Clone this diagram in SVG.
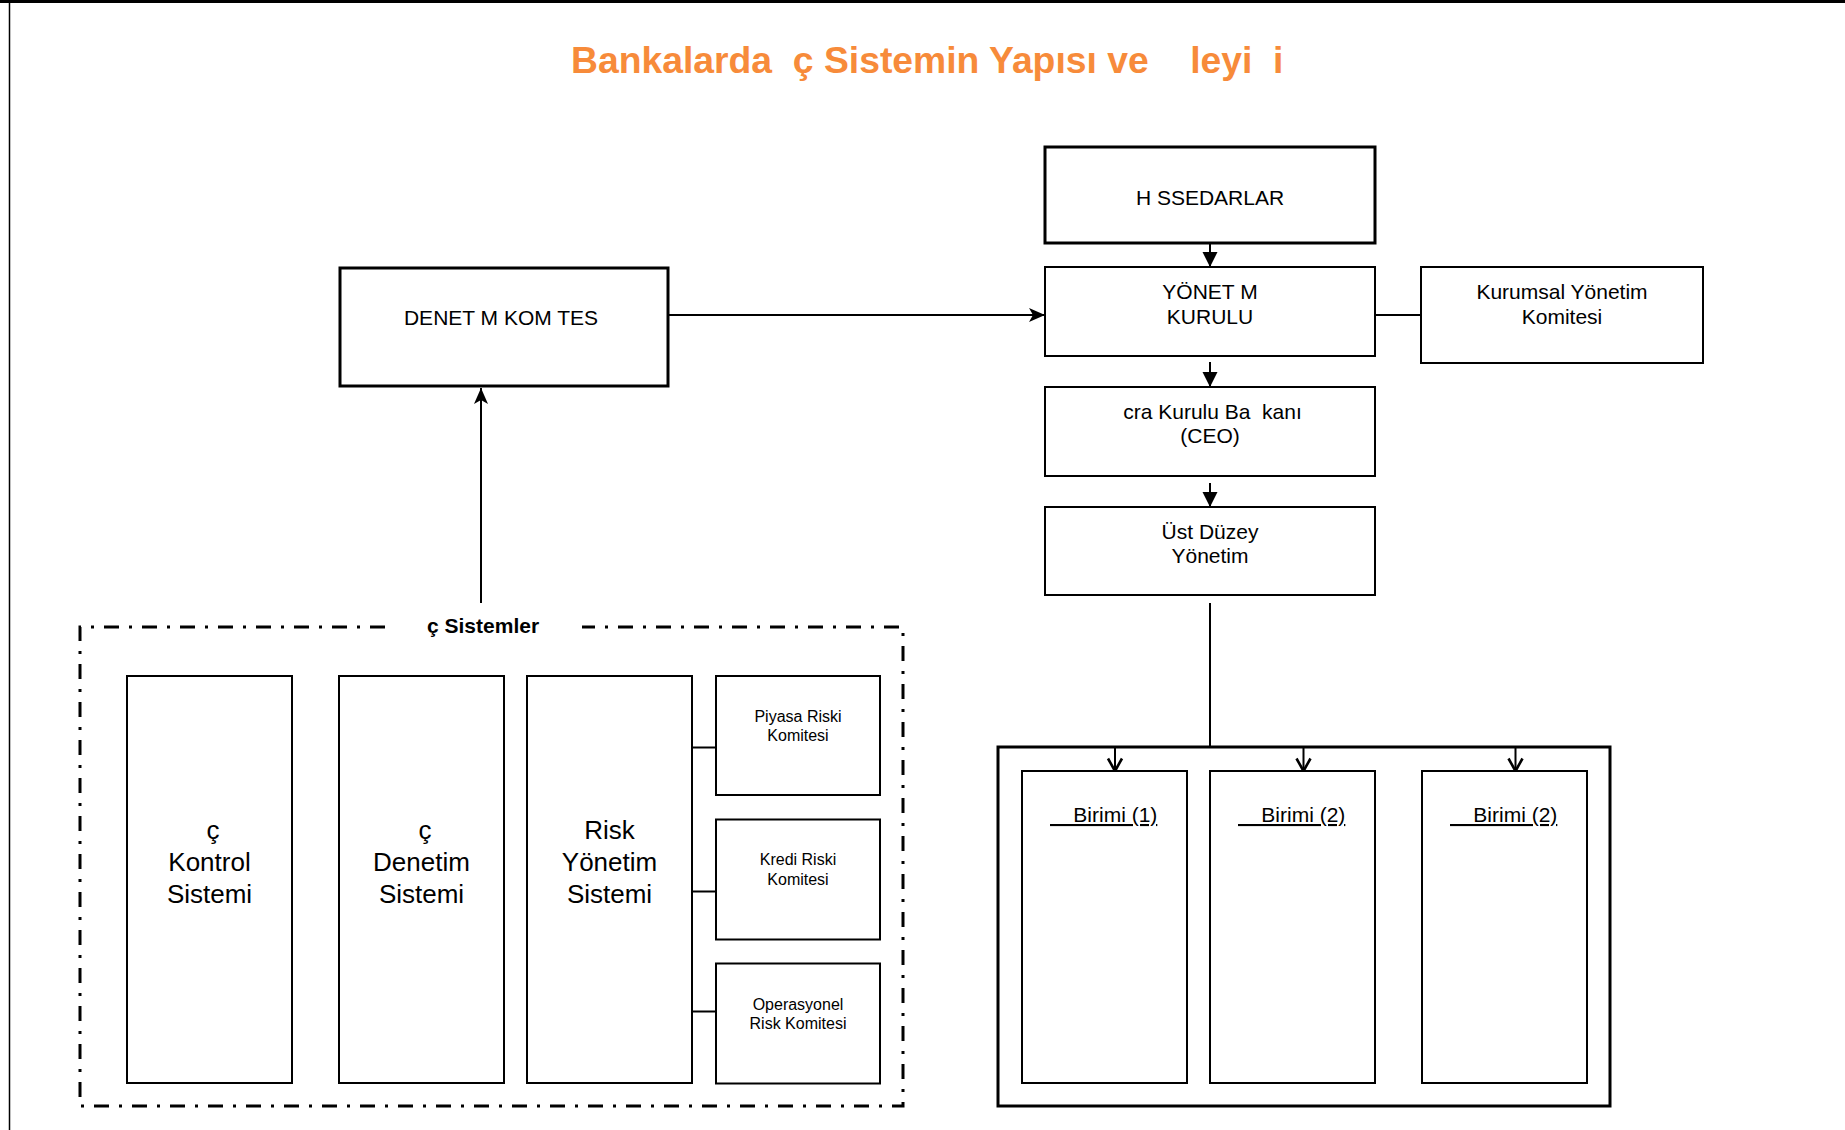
<svg xmlns="http://www.w3.org/2000/svg" width="1845" height="1130" viewBox="0 0 1845 1130">
<style>
text{font-family:"Liberation Sans",Arial,sans-serif;fill:#000;white-space:pre}
.title{font-size:37.3px;font-weight:bold;fill:#F78B3A}
.m{font-size:21px;text-anchor:middle}
.big{font-size:26px;text-anchor:middle}
.s{font-size:16px;text-anchor:middle}
.lbl{font-size:21px;font-weight:bold}
.u{font-size:21px;text-decoration:underline}
.thick{fill:#fff;stroke:#000;stroke-width:3}
.thin{fill:#fff;stroke:#000;stroke-width:2}
.con{fill:none;stroke:#000;stroke-width:2}
.dash{fill:none;stroke:#000;stroke-width:3;stroke-dasharray:15 10 3 10}
</style>
<defs>
<marker id="tri" markerUnits="userSpaceOnUse" markerWidth="16" markerHeight="16" refX="15" refY="7.5" orient="auto"><path d="M0,0 L15,7.5 L0,15 Z" fill="#000"/></marker>
<marker id="stealth" markerUnits="userSpaceOnUse" markerWidth="17" markerHeight="15" refX="16" refY="7" orient="auto"><path d="M0,0 L16,7 L0,14 L4,7 Z" fill="#000"/></marker>
<marker id="vee" markerUnits="userSpaceOnUse" markerWidth="17" markerHeight="18" refX="14" refY="8.5" orient="auto"><path d="M1.5,1.5 L14,8.5 L1.5,15.5" fill="none" stroke="#000" stroke-width="2.6"/></marker>
</defs>
<rect width="1845" height="1130" fill="#fff"/>
<g id="frame">
<line x1="0" y1="1.5" x2="1845" y2="1.5" stroke="#000" stroke-width="3"/>
<line x1="9.5" y1="0" x2="9.5" y2="1130" stroke="#000" stroke-width="1.5"/>
</g>
<text id="title" class="title" x="571" y="73" xml:space="preserve">Bankalarda  ç Sistemin Yapısı ve    leyi  i</text>

<g id="connectors">
<path class="con" d="M1210,244 V267" marker-end="url(#tri)"/>
<path class="con" d="M1210,362 V387" marker-end="url(#tri)"/>
<path class="con" d="M1210,483 V507" marker-end="url(#tri)"/>
<path class="con" d="M668,315 H1045" marker-end="url(#stealth)"/>
<path class="con" d="M481,603 V388" marker-end="url(#stealth)"/>
<path class="con" d="M1375,315 H1421"/>
<path class="con" d="M1210,603 V747"/>
<path class="con" d="M1115,747 V771" marker-end="url(#vee)"/>
<path class="con" d="M1303.5,747 V771" marker-end="url(#vee)"/>
<path class="con" d="M1515.5,747 V771" marker-end="url(#vee)"/>
<path class="con" d="M692,747.5 H716"/>
<path class="con" d="M692,891.5 H716"/>
<path class="con" d="M692,1011.5 H716"/>
</g>

<g id="hissedarlar"><rect class="thick" x="1045" y="147" width="330" height="96"/><text class="m" x="1210" y="205">H SSEDARLAR</text></g>
<g id="yonetim-kurulu"><rect class="thin" x="1045" y="267" width="330" height="89"/><text class="m" x="1210" y="299" xml:space="preserve">YÖNET M</text><text class="m" x="1210" y="323.5">KURULU</text></g>
<g id="kurumsal"><rect class="thin" x="1421" y="267" width="282" height="96"/><text class="m" x="1562" y="299">Kurumsal Yönetim</text><text class="m" x="1562" y="323.5">Komitesi</text></g>
<g id="denetim-komitesi"><rect class="thick" x="340" y="268" width="328" height="118"/><text class="m" x="501" y="325" xml:space="preserve">DENET M KOM TES</text></g>
<g id="ceo"><rect class="thin" x="1045" y="387" width="330" height="89"/><text class="m" x="1212.5" y="418.5" xml:space="preserve">cra Kurulu Ba  kanı</text><text class="m" x="1210" y="443">(CEO)</text></g>
<g id="ust-duzey"><rect class="thin" x="1045" y="507" width="330" height="88"/><text class="m" x="1210" y="538.5">Üst Düzey</text><text class="m" x="1210" y="563">Yönetim</text></g>

<g id="ic-sistemler">
<path class="dash" d="M385,627 H80 V1106 H903 V627 H582"/>
<text class="lbl" x="427" y="633">ç Sistemler</text>
</g>
<g id="ic-kontrol"><rect class="thin" x="127" y="676" width="165" height="407"/><text class="big" x="213" y="839">ç</text><text class="big" x="209.5" y="871">Kontrol</text><text class="big" x="209.5" y="903">Sistemi</text></g>
<g id="ic-denetim"><rect class="thin" x="339" y="676" width="165" height="407"/><text class="big" x="425" y="839">ç</text><text class="big" x="421.5" y="871">Denetim</text><text class="big" x="421.5" y="903">Sistemi</text></g>
<g id="risk-yonetim"><rect class="thin" x="527" y="676" width="165" height="407"/><text class="big" x="609.5" y="839">Risk</text><text class="big" x="609.5" y="871">Yönetim</text><text class="big" x="609.5" y="903">Sistemi</text></g>
<g id="piyasa"><rect class="thin" x="716" y="676" width="164" height="119"/><text class="s" x="798" y="722">Piyasa Riski</text><text class="s" x="798" y="741">Komitesi</text></g>
<g id="kredi"><rect class="thin" x="716" y="819.5" width="164" height="120"/><text class="s" x="798" y="865">Kredi Riski</text><text class="s" x="798" y="885">Komitesi</text></g>
<g id="operasyonel"><rect class="thin" x="716" y="963.5" width="164" height="120"/><text class="s" x="798" y="1009.5">Operasyonel</text><text class="s" x="798" y="1028.5">Risk Komitesi</text></g>

<g id="birimler"><rect fill="none" stroke="#000" stroke-width="3" x="998" y="747" width="612" height="359"/></g>
<g id="birim-1"><rect class="thin" x="1022" y="771" width="165" height="312"/><text class="u" x="1050" y="822" xml:space="preserve">    Birimi (1)</text></g>
<g id="birim-2"><rect class="thin" x="1210" y="771" width="165" height="312"/><text class="u" x="1238" y="822" xml:space="preserve">    Birimi (2)</text></g>
<g id="birim-3"><rect class="thin" x="1422" y="771" width="165" height="312"/><text class="u" x="1450" y="822" xml:space="preserve">    Birimi (2)</text></g>
</svg>
